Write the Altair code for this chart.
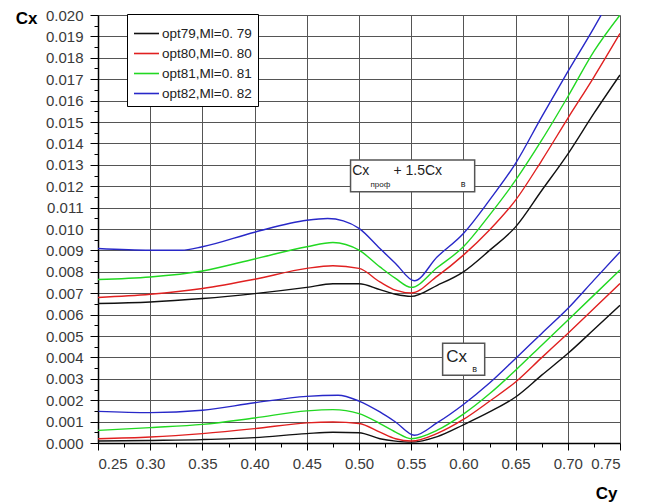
import altair as alt
import pandas as pd

# ---------------- data (Cx values given in units of 0.001) ----------------
series_names = ["opt79,Ml=0. 79", "opt80,Ml=0. 80", "opt81,Ml=0. 81", "opt82,Ml=0. 82"]
series_colors = ["#111111", "#e02020", "#22d822", "#2828c8"]

cy_common = [0.25, 0.30, 0.35, 0.40, 0.45, 0.475, 0.50, 0.52, 0.535, 0.55,
             0.575, 0.60, 0.625, 0.65, 0.675, 0.70, 0.725, 0.75]

# upper family: Cx_prof + 1.5 Cx_v
upper_79 = [6.52, 6.59, 6.75, 6.98, 7.27, 7.44, 7.44, 7.17, 6.95, 6.85,
            7.37, 8.00, 9.00, 10.10, 11.80, 13.50, 15.40, 17.20]
upper_80 = [6.80, 6.95, 7.22, 7.65, 8.16, 8.28, 8.16, 7.53, 7.14, 7.01,
            7.80, 8.78, 9.95, 11.35, 13.20, 15.17, 17.10, 19.14]
upper_81 = [7.64, 7.76, 8.04, 8.60, 9.17, 9.37, 9.01, 8.23, 7.69, 7.27,
            8.20, 9.17, 10.65, 12.28, 14.15, 16.18, 18.30, 20.00]
cy_upper_82 = [0.25, 0.30, 0.33, 0.35, 0.40, 0.45, 0.47, 0.485, 0.50, 0.52, 0.535,
               0.553, 0.575, 0.60, 0.625, 0.65, 0.675, 0.70, 0.725, 0.732]
upper_82 = [9.09, 9.01, 9.01, 9.17, 9.85, 10.41, 10.49, 10.38, 10.03, 9.09, 8.39,
            7.58, 8.70, 9.79, 11.35, 13.07, 15.24, 17.35, 19.40, 20.00]

# lower family: Cx_v
lower_79 = [0.09, 0.12, 0.16, 0.25, 0.44, 0.50, 0.48, 0.20, 0.09, 0.04,
            0.30, 0.85, 1.45, 2.15, 3.17, 4.18, 5.30, 6.44]
lower_80 = [0.20, 0.28, 0.44, 0.67, 0.94, 0.98, 0.91, 0.51, 0.20, 0.09,
            0.45, 1.10, 1.95, 2.85, 3.99, 5.12, 6.28, 7.45]
lower_81 = [0.59, 0.72, 0.87, 1.17, 1.50, 1.56, 1.37, 0.91, 0.51, 0.20,
            0.60, 1.35, 2.30, 3.40, 4.57, 5.74, 6.91, 8.08]
cy_lower_82 = [0.25, 0.30, 0.35, 0.40, 0.45, 0.48, 0.50, 0.52, 0.535, 0.553,
               0.575, 0.60, 0.625, 0.65, 0.675, 0.70, 0.725, 0.75]
lower_82 = [1.48, 1.42, 1.53, 1.88, 2.18, 2.23, 1.96, 1.45, 0.98, 0.36,
            0.95, 1.80, 2.80, 3.95, 5.12, 6.28, 7.61, 8.93]

x_ticks = [0.25, 0.30, 0.35, 0.40, 0.45, 0.50, 0.55, 0.60, 0.65, 0.70, 0.75]
x_minor = [0.275, 0.325, 0.375, 0.425, 0.475, 0.525, 0.575, 0.625, 0.675, 0.725]
y_ticks = [i / 1000 for i in range(21)]
y_minor = [(i + 0.5) / 1000 for i in range(20)]

# ---------------- table ----------------
rows = []
def add(xs, ys, name, group):
    for x, y in zip(xs, ys):
        rows.append({"cy": x, "cx": y / 1000.0, "series": name, "group": group})

add(cy_common, upper_79, series_names[0], "upper")
add(cy_common, upper_80, series_names[1], "upper")
add(cy_common, upper_81, series_names[2], "upper")
add(cy_upper_82, upper_82, series_names[3], "upper")
add(cy_common, lower_79, series_names[0], "lower")
add(cy_common, lower_80, series_names[1], "lower")
add(cy_common, lower_81, series_names[2], "lower")
add(cy_lower_82, lower_82, series_names[3], "lower")
df = pd.DataFrame(rows)

FONT = "Liberation Sans"
xscale = alt.Scale(domain=[0.25, 0.75], nice=False, zero=False)
yscale = alt.Scale(domain=[0.0, 0.020], nice=False, zero=False)

lines = alt.Chart(df).mark_line(strokeWidth=1.4, interpolate="monotone", clip=True).encode(
    x=alt.X("cy:Q", scale=xscale,
            axis=alt.Axis(orient="bottom", values=x_ticks, format=".2f", grid=True,
                          gridColor="#555555", gridWidth=1, tickSize=7, tickColor="#000",
                          domainColor="#000", domainWidth=1.5, labelFont=FONT,
                          labelFontSize=15, labelColor="#3a3a3a", labelPadding=6,
                          title="Cy", titleFont=FONT, titleFontSize=17, titleFontWeight="bold",
                          titleX=508, titleY=50, titleAlign="center", titleBaseline="middle")),
    y=alt.Y("cx:Q", scale=yscale,
            axis=alt.Axis(orient="left", values=y_ticks, format=".3f", grid=True,
                          gridColor="#555555", gridWidth=1, tickSize=8, tickColor="#000",
                          domainColor="#000", domainWidth=1.5, labelFont=FONT,
                          labelFontSize=15, labelColor="#3a3a3a", labelPadding=7,
                          title="Cx", titleFont=FONT, titleFontSize=17, titleFontWeight="bold",
                          titleAngle=0, titleX=-72, titleY=3, titleAlign="center",
                          titleBaseline="middle")),
    color=alt.Color("series:N", scale=alt.Scale(domain=series_names, range=series_colors),
                    legend=alt.Legend(orient="none", legendX=29, legendY=-1, title=None,
                                      symbolType="M-1,0L1,0", symbolSize=625,
                                      symbolStrokeWidth=1.6,
                                      labelFont=FONT, labelFontSize=13.5, labelColor="#222",
                                      strokeColor="#000", fillColor="#fff", padding=6,
                                      rowPadding=0, labelOffset=2)),
    detail="group:N",
)

minor = alt.Chart(df).mark_point(opacity=0).encode(
    x=alt.X("cy:Q", scale=xscale,
            axis=alt.Axis(orient="bottom", offset=0, values=x_minor, labels=False, grid=False,
                          tickSize=4, tickColor="#000", tickWidth=1, domain=False,
                          title=None, zindex=1)),
    y=alt.Y("cx:Q", scale=yscale,
            axis=alt.Axis(orient="left", offset=0, values=y_minor, labels=False, grid=False,
                          tickSize=4, tickColor="#000", tickWidth=1, domain=False,
                          title=None, zindex=1)),
)

# annotation boxes (positioned in data coordinates)
box_df = pd.DataFrame({"x": [0.4919, 0.5801], "x2": [0.6108, 0.6204],
                       "y": [0.01174, 0.00317], "y2": [0.01322, 0.00466]})
boxes = alt.Chart(box_df).mark_rect(fill="#fff", stroke="#555", strokeWidth=1.5).encode(
    x=alt.X("x:Q", scale=xscale, axis=None), x2="x2:Q",
    y=alt.Y("y:Q", scale=yscale, axis=None), y2="y2:Q")

ann = pd.DataFrame({
    "x": [0.4935, 0.5110, 0.5330, 0.5975, 0.5835, 0.6085],
    "y": [0.01270, 0.01205, 0.01272, 0.01210, 0.00401, 0.00348],
    "t": ["Cx", "проф", "+ 1.5Cx", "в", "Cx", "в"],
    "s": [14, 8, 14, 9, 17, 9],
})
texts = alt.Chart(ann).mark_text(align="left", baseline="middle", font=FONT, color="#222").encode(
    x=alt.X("x:Q", scale=xscale, axis=None),
    y=alt.Y("y:Q", scale=yscale, axis=None),
    text="t:N", size=alt.Size("s:Q", scale=None, legend=None))

chart = alt.layer(lines, minor, boxes, texts).resolve_axis(
    x="independent", y="independent").properties(
    width=522, height=428,
    autosize=alt.AutoSizeParams(type="none"),
    padding={"left": 98, "top": 15, "right": 29, "bottom": 60},
).configure_view(strokeWidth=0)

chart.save("out.html", embed_options={"renderer": "svg", "actions": False})
